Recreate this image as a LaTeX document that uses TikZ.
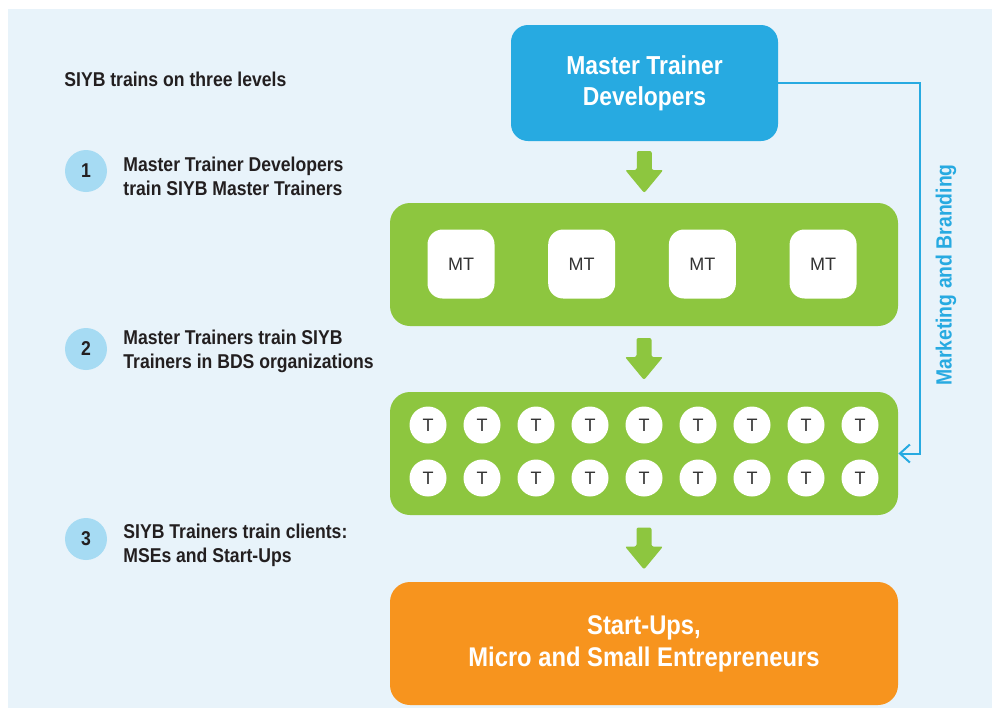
\documentclass[tikz,border=0pt]{standalone}
\usepackage{fontspec}
\setmainfont{Liberation Sans}
\newfontfamily\siybfont[FakeStretch=0.88]{Liberation Sans}
\usepackage{tikz}
\usetikzlibrary{calc,arrows.meta}

\definecolor{bgblue}{HTML}{E8F3FA}
\definecolor{siybblue}{HTML}{27AAE1}
\definecolor{siybgreen}{HTML}{8DC63F}
\definecolor{siyborange}{HTML}{F7941E}
\definecolor{numblue}{HTML}{A6DBF3}
\definecolor{darktext}{HTML}{231F20}
\definecolor{labelgray}{HTML}{333333}

\tikzset{
  levelbox/.style={rounded corners=10pt, minimum width=254pt, minimum height=61.5pt,
    inner sep=0pt, fill=siybgreen},
  mtbox/.style={fill=white, rounded corners=7.5pt, minimum width=33.5pt, minimum height=34.5pt,
    inner sep=0pt, text=labelgray, font=\fontsize{9}{10}\selectfont},
  tdot/.style={circle, fill=white, minimum size=18.5pt, inner sep=0pt,
    text=labelgray, font=\fontsize{9}{10}\selectfont},
  numdot/.style={circle, fill=numblue, minimum size=21pt, inner sep=0pt,
    text=darktext, font=\siybfont\bfseries\fontsize{10}{12}\selectfont},
  leveltext/.style={anchor=west, align=left, inner sep=0pt, text=darktext,
    font=\siybfont\bfseries\fontsize{10}{12}\selectfont},
}

% fat green arrow pointing down, centred on a named coordinate
\newcommand{\greenarrow}[1]{%
  \begin{scope}[shift={(#1)}]
    \fill[siybgreen, rounded corners=1pt] (-7.5,-21) -- (7.5,-21) -- (7.5,-2) -- (19,-2)
      -- (0,21) -- (-19,-2) -- (-7.5,-2) -- cycle;
  \end{scope}}

\begin{document}
\begin{tikzpicture}[x=0.5pt, y=-0.5pt]
    \useasboundingbox (0,0) rectangle (992,708);
    \fill[white] (0,0) rectangle (992,708);
    \fill[bgblue] (8,9) rectangle (992,708);

    % left column
    \node[leveltext] (title) at (64,79) {SIYB trains on three levels};
    \node[numdot] (n1) at (86,171) {1};
    \node[leveltext] (l1) at (123,176) {Master Trainer Developers\\train SIYB Master Trainers};
    \node[numdot] (n2) at (86,349) {2};
    \node[leveltext] (l2) at (123,351) {Master Trainers train SIYB\\Trainers in BDS organizations};
    \node[numdot] (n3) at (86,539) {3};
    \node[leveltext] (l3) at (123,545) {SIYB Trainers train clients:\\MSEs and Start-Ups};

    % levels
    \node[fill=siybblue, rounded corners=8.5pt, minimum width=133.5pt, minimum height=58pt,
      inner sep=0pt, align=center, text=white,
      font=\siybfont\bfseries\fontsize{13}{15.5}\selectfont] (mtd) at (644.5,83)
      {Master Trainer\\Developers};
    \node[levelbox] (mtg) at (644,264.5) {};
    \foreach \i in {1,...,4}
      \node[mtbox] (mt\i) at ({461+120.7*(\i-1)},264) {MT};
    \node[levelbox] (tg) at (644,453.5) {};
    \foreach \r/\y in {1/425,2/478}
      \foreach \i in {1,...,9}
        \node[tdot] (t\r\i) at ({428+54*(\i-1)},\y) {T};
    \node[levelbox, fill=siyborange, align=center, text=white,
      font=\siybfont\bfseries\fontsize{13.5}{16}\selectfont] (mse) at (644,643.5)
      {Start-Ups,\\Micro and Small Entrepreneurs};

    % arrows between levels
    \coordinate (a1) at ($(mtd.south)!0.5!(mtg.north)$);
    \coordinate (a2) at ($(mtg.south)!0.5!(tg.north)$);
    \coordinate (a3) at ($(tg.south)!0.5!(mse.north)$);
    \greenarrow{a1}
    \greenarrow{a2}
    \greenarrow{a3}

    % marketing loop
    \draw[siybblue, line width=1pt, -{Straight Barb[length=5pt,width=9pt]}]
      (mtd.east) -- ++(142,0) |- (tg.east);
    \node[rotate=90, text=siybblue, font=\siybfont\bfseries\fontsize{11}{13}\selectfont]
      (mkt) at (946,275) {Marketing and Branding};
\end{tikzpicture}
\end{document}
